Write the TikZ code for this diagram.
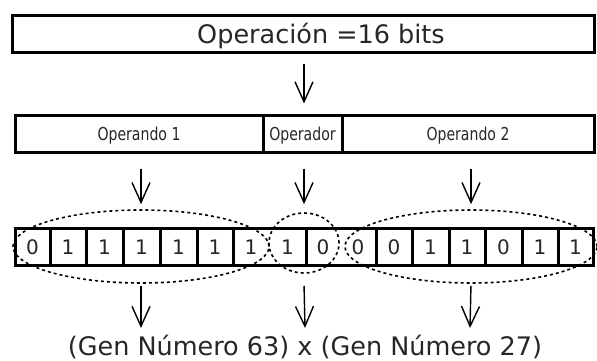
\documentclass[tikz,border=0pt]{standalone}
\usepackage{fontspec}
\setmainfont{DejaVu Sans}
\newfontfamily\narrowfont[FakeStretch=0.79]{DejaVu Sans}
\usetikzlibrary{arrows.meta,shapes.geometric}

\begin{document}
\begin{tikzpicture}[x=1pt,y=-1pt,
  box/.style={draw, line width=3pt, inner sep=0pt, minimum height=37pt},
  big/.style={font=\fontsize{25.5}{30}\selectfont, text=black!85, text height=18.6pt, text depth=0pt},
  lbl/.style={font=\narrowfont\fontsize{17.8}{20}\selectfont, text=black!85, text height=13pt, text depth=0pt},
  bit/.style={font=\fontsize{20}{24}\selectfont, text=black!85, inner sep=0pt, text height=14.6pt, text depth=0pt},
  grp/.style={draw, ellipse, dash pattern=on 3pt off 3pt, line width=1.6pt, inner sep=0pt},
  arr/.style={line width=1.4pt, -{Straight Barb[length=20pt,width=18pt,line width=1.4pt]}}
]
\useasboundingbox (0,0) rectangle (597,361);

% whole instruction word
\node[box, minimum width=582pt] (op) at (303,34.5) {};
\node[big, inner sep=0pt] (optxt) at (321,34.5) {Operación =16 bits};

% fields of the instruction
\node[box, lbl, minimum width=248pt] (o1)  at (139,133.5)   {Operando 1};
\node[box, lbl, minimum width=79pt]  (opr) at (302.5,133.5) {Operador};
\node[box, lbl, minimum width=252pt] (o2)  at (468,133.5)   {Operando 2};

% bit row: outer frame and cell dividers
\node[box, minimum width=578pt] (bits) at (304,246.5) {};
\foreach \x in {50,86,123,160,197,233,306,376,412,449,485,522,558}
  \draw[line width=3pt] (\x,228) -- (\x,265);

% bit values
\foreach \l/\r/\b [count=\i from 0] in {15/50/0, 50/86/1, 86/123/1, 123/160/1,
    160/197/1, 197/233/1, 233/269/1, 269/306/1, 306/340/0, 340/376/0,
    376/412/0, 412/449/1, 449/485/1, 485/522/0, 522/558/1, 558/593/1}
  \node[bit] (b\i) at ({(\l+\r)/2},247) {\b};

% dotted groupings of the bits
\node[grp, minimum width=256pt, minimum height=73pt] (e1) at (141,246.5) {};
\node[grp, minimum width=70pt,  minimum height=60pt] (e2) at (304,243)   {};
\node[grp, minimum width=252pt, minimum height=73pt] (e3) at (471,246.5) {};

% decoded result
\node[big, anchor=base] (res) at (305,355) {(Gen Número 63) x (Gen Número 27)};
\coordinate (t1) at (141,328);
\coordinate (t2) at (305,328);
\coordinate (t3) at (470,328);

% arrows
\draw[arr, shorten <=10pt, shorten >=10pt] (op.south -| 304,0) -- (opr.north -| 304,0);
\draw[arr, shorten <=15pt, shorten >=5pt] (o1.south -| e1.north) -- (e1.north);
\draw[arr, shorten <=15pt, shorten >=8pt] (opr.south -| e2.north) -- (e2.north);
\draw[arr, shorten <=15pt, shorten >=5pt] (o2.south -| e3.north) -- (e3.north);
\draw[arr, shorten <=2pt] (e1.south) -- (t1);
\draw[arr, shorten <=2pt] (e2.south |- e1.south) -- (t2);
\draw[arr, shorten <=2pt] (e3.south) -- (t3);
\end{tikzpicture}
\end{document}
